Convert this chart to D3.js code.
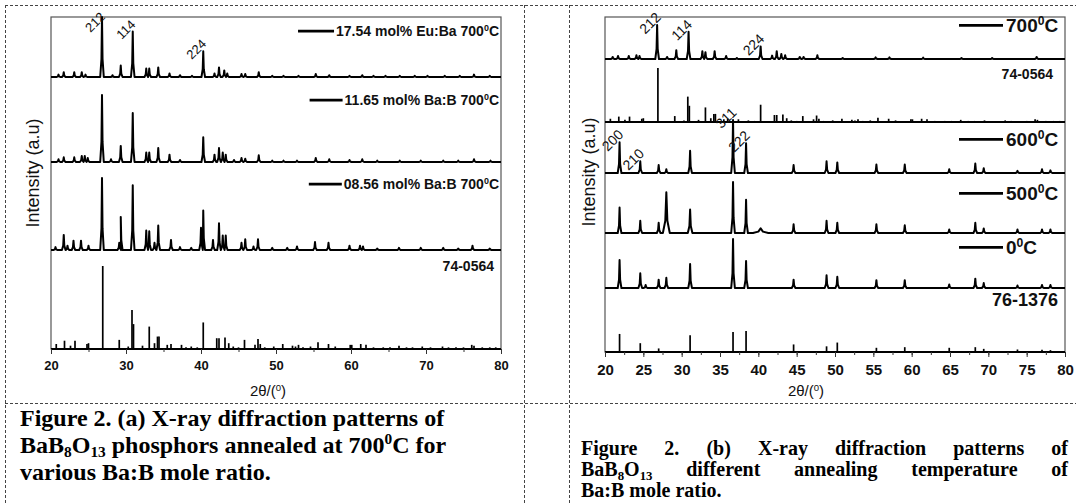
<!DOCTYPE html>
<html>
<head>
<meta charset="utf-8">
<script src="https://cdn.jsdelivr.net/npm/d3@7"></script>
<style>
  body { margin: 0; background: #fff; }
  svg text { font-family: Arial, "Liberation Sans", sans-serif; fill: #111; }
  svg text.cap { font-family: "Times New Roman", "Liberation Serif", serif; font-weight: bold; fill: #000; }
</style>
</head>
<body>
<svg id="fig" width="1076" height="504"></svg>
<script>
// peaks: [2theta (deg), relative intensity (%), optional half width (deg)]
const xrd1754 = [[21.0,4],[21.7,8],[23.1,8],[24.1,8],[24.6,4],[26.8,100],[28.2,3],[29.3,19],[30.9,76],[32.7,14],[33.1,14],[34.3,16],[35.8,6],[37.2,3],[38.8,2],[40.3,43],[41.8,6],[42.4,16],[43.1,11],[43.5,6],[45.4,5],[45.9,5],[47.7,8],[49.5,2],[51.0,2],[53.0,2],[55.3,5],[57.1,3],[59.8,2],[61.5,3],[63.0,2],[64.6,2],[66.5,2],[68.5,2],[70.2,2],[72.5,2],[74.5,2],[76.4,4],[78.5,2]];
const xrd1165 = [[21.0,4],[21.7,7],[23.1,7],[24.1,9],[24.5,9],[24.9,6],[26.8,100],[28.0,4],[29.3,24],[30.9,73],[32.7,14],[33.1,14],[34.3,21],[35.8,11],[37.2,3],[40.3,37],[41.8,11],[42.4,21],[42.9,14],[43.3,11],[44.4,3],[45.4,6],[45.9,5],[47.7,10],[49.5,2],[51.0,2],[52.8,2],[55.3,6],[57.1,4],[59.8,3],[61.5,4],[63.5,2],[66.5,2],[69.3,2],[72.3,2],[74.3,2],[76.4,4],[78.6,2]];
const xrd0856 = [[20.6,4],[21.7,21],[22.2,6],[23.0,13],[24.0,13],[25.0,6],[26.8,100],[29.1,10],[29.3,46],[30.9,90],[32.7,27],[33.1,26],[33.8,10],[34.3,34],[36.0,14],[37.2,4],[38.7,3],[40.0,31],[40.3,55],[41.6,14],[42.4,37],[42.9,20],[43.3,20],[45.4,10],[45.9,15],[47.0,5],[47.6,15],[49.5,3],[51.5,3],[52.8,5],[55.2,11],[57.0,10],[59.8,6],[61.2,6],[61.6,5],[63.5,2],[66.4,3],[69.3,3],[72.3,3],[74.3,2],[76.2,6],[78.5,2]];
// reference card 74-0564 (sticks)
const card740564 = [[20.7,6],[21.8,10],[22.6,4],[23.2,10],[24.8,6],[25.0,7],[26.9,100],[29.1,11],[30.3,3],[30.8,47],[31.0,30],[32.2,4],[33.1,27],[33.8,7],[34.2,15],[34.4,15],[35.5,5],[36.0,6],[37.4,5],[38.0,2],[38.7,3],[39.5,2],[40.3,32],[42.1,13],[42.4,13],[43.2,14],[43.7,7],[44.3,3],[45.0,2],[45.8,11],[47.2,5],[47.6,12],[47.9,6],[48.5,2],[49.7,3],[50.9,6],[52.2,4],[52.6,3],[53.0,5],[53.6,2],[54.6,3],[55.6,8],[57.0,6],[57.9,3],[59.9,5],[60.1,5],[61.3,6],[62.0,5],[63.0,2],[64.3,2],[65.2,2],[66.4,4],[67.4,2],[68.2,2],[69.5,3],[70.6,2],[72.2,3],[73.0,2],[74.0,2],[75.0,2],[76.1,5],[76.4,4],[77.5,2],[78.5,2],[79.3,2]];

const xrd700 = [[21.0,6],[21.7,9],[23.1,9],[24.1,11],[24.5,9],[26.8,100],[28.1,6],[29.3,26],[30.9,80],[32.7,23],[33.1,20],[34.3,23],[35.8,9],[37.2,3],[40.3,37],[41.8,10],[42.4,23],[43.0,15],[43.5,11],[45.4,6],[45.9,6],[47.7,11],[51.0,3],[55.3,5],[57.1,5],[61.5,4],[66.5,3],[70.5,3],[76.3,6]];
const xrd600 = [[21.9,58],[24.6,22],[27.0,15],[28.0,7],[31.1,42],[36.7,100],[38.4,56],[44.6,15],[48.9,22],[50.3,20],[55.4,16],[59.1,16],[64.9,7],[68.3,18],[69.4,9],[73.8,4],[77.0,7],[78.1,5]];
const xrd500 = [[21.9,50],[24.6,24],[27.0,20],[28.0,80,0.45],[31.1,46,0.3],[36.7,100],[38.4,65],[40.3,9,1.0],[44.6,17],[48.9,24],[50.3,20],[55.4,17],[59.1,15],[64.9,7],[68.3,20],[69.4,9],[73.8,7],[77.0,7],[78.1,7]];
const xrd0 = [[21.9,57],[24.6,30],[25.3,6],[27.0,17],[28.0,21],[31.1,49],[36.7,100],[38.4,55],[44.6,17],[48.9,26],[50.3,23],[55.4,16],[59.1,16],[64.9,7],[68.3,19],[69.4,10],[73.8,5],[77.0,6],[78.1,6]];
// reference card 76-1376 (sticks)
const card761376 = [[21.9,86],[24.6,42],[27.0,17],[31.1,80],[33.2,4],[36.7,95],[38.4,100],[40.2,4],[41.7,4],[44.6,36],[46.2,3],[47.6,4],[48.9,27],[50.3,45],[51.7,4],[52.9,4],[55.4,20],[57.0,3],[58.0,3],[59.1,23],[61.0,3],[62.9,3],[64.9,20],[66.5,3],[67.4,3],[68.3,23],[69.4,15],[70.6,3],[71.6,3],[72.8,3],[73.8,12],[75.3,3],[76.1,3],[77.0,11],[78.1,9],[79.2,3]];

const hklBaB8O13 = [["212",26.8],["114",30.9],["224",40.3]];
const hklCubic = [["200",21.9],["210",24.6],["311",36.7],["222",38.4]];

const leftTicks = [20,30,40,50,60,70,80];
const rightTicks = [20,25,30,35,40,45,50,55,60,65,70,75,80];

const svg = d3.select("#fig");

// text with super/subscripts: parts = [[text, ''|'sup'|'sub'], ...]
function rich(t, parts, fs) {
  let shift = 0;
  parts.forEach(([s, k]) => {
    const target = k === "sup" ? -0.36 * fs : k === "sub" ? 0.18 * fs : 0;
    t.append("tspan").attr("dy", target - shift).attr("font-size", k ? fs * 0.64 : fs).text(s);
    shift = target;
  });
  return t;
}

// dashed table borders
const dash = (x1, y1, x2, y2) => svg.append("line")
  .attr("x1", x1).attr("y1", y1).attr("x2", x2).attr("y2", y2)
  .attr("stroke", "#444").attr("stroke-width", 1).attr("stroke-dasharray", "3,2");
dash(5, 5.5, 1076, 5.5);
dash(5, 403.5, 1076, 403.5);
dash(5.5, 5, 5.5, 504);
dash(524.5, 5, 524.5, 504);
dash(569.5, 5, 569.5, 504);

function tracePoints(peaks, w) {
  const pts = [[20, 0]];
  let last = 20;
  peaks.slice().sort((a, b) => a[0] - b[0]).forEach(p => {
    const hw = p[2] || w;
    const l = Math.max(p[0] - hw, last);
    pts.push([l, 0]);
    if (p[0] - hw * 0.3 > l) pts.push([p[0] - hw * 0.3, p[1] * 0.3]);
    pts.push([p[0], p[1]]);
    pts.push([p[0] + hw * 0.3, p[1] * 0.3]);
    pts.push([p[0] + hw, 0]);
    last = p[0] + hw;
  });
  pts.push([80, 0]);
  return pts;
}

function panel(cfg) {
  const x = d3.scaleLinear().domain([20, 80]).range([cfg.x0, cfg.x1]);

  svg.append("rect")
    .attr("x", cfg.x0).attr("y", cfg.top)
    .attr("width", cfg.x1 - cfg.x0).attr("height", cfg.axis - cfg.top)
    .attr("fill", "none").attr("stroke", "#555").attr("stroke-width", 1.2);

  cfg.bands.forEach(b => {
    const y = d3.scaleLinear().domain([0, 100]).range([b.base, b.top]);
    const g = svg.append("g");
    if (b.sticks) {
      g.append("line").attr("x1", x(20)).attr("x2", x(80))
        .attr("y1", b.base).attr("y2", b.base)
        .attr("stroke", "#000").attr("stroke-width", 1.8);
      g.selectAll("line.st").data(b.data).enter().append("line").attr("class", "st")
        .attr("x1", d => x(d[0])).attr("x2", d => x(d[0]))
        .attr("y1", b.base).attr("y2", d => y(d[1]))
        .attr("stroke", "#000").attr("stroke-width", 1.7);
    } else {
      const line = d3.line().x(d => x(d[0])).y(d => y(d[1]));
      g.append("path").attr("d", line(tracePoints(b.data, b.w)))
        .attr("fill", "none").attr("stroke", "#000").attr("stroke-width", 2)
        .attr("stroke-linejoin", "round");
    }
    if (b.hkl) {
      // hkl labels sit up-left of their peak, reading at 45 degrees
      b.hkl.forEach(([lab, tt]) => {
        const pk = b.data.find(d => d[0] === tt);
        const cx = x(tt) - 7, cy = Math.max(y(pk[1]), cfg.top + 7) - 2;
        svg.append("text").attr("transform", `translate(${cx},${cy}) rotate(-45)`)
          .attr("text-anchor", "middle").attr("dy", "0.35em")
          .attr("font-size", cfg.hklSize).attr("fill", "#000").text(lab);
      });
    }
    if (b.legend) {
      const L = b.legend;
      const t = svg.append("text").attr("y", L.y).attr("font-weight", "bold");
      rich(t, L.parts, L.fs);
      const wdt = t.node().getComputedTextLength();
      const tx = L.anchor === "end" ? L.x - wdt : L.x;
      t.attr("x", tx);
      if (L.line) {
        svg.append("line").attr("x1", tx - L.gap - L.line).attr("x2", tx - L.gap)
          .attr("y1", L.y - L.fs * 0.35).attr("y2", L.y - L.fs * 0.35)
          .attr("stroke", "#000").attr("stroke-width", 2.6);
      }
    }
  });

  const minor = d3.range(20, 80.01, cfg.minor);
  svg.append("g").attr("transform", `translate(0,${cfg.axis})`)
    .call(d3.axisBottom(x).tickValues(minor).tickSize(3).tickSizeOuter(0).tickFormat(""))
    .call(g => g.select(".domain").remove())
    .call(g => g.selectAll("line").attr("stroke", "#333"));
  svg.append("g").attr("transform", `translate(0,${cfg.axis})`)
    .call(d3.axisBottom(x).tickValues(cfg.ticks).tickSize(5).tickSizeOuter(0).tickPadding(cfg.pad))
    .call(g => g.select(".domain").remove())
    .call(g => g.selectAll("line").attr("stroke", "#333"))
    .call(g => g.selectAll("text").attr("font-size", cfg.tickSize).attr("font-weight", "bold")
      .attr("font-family", "Arial, 'Liberation Sans', sans-serif").attr("fill", "#111"));

  rich(svg.append("text").attr("x", cfg.xt).attr("y", cfg.xtY).attr("text-anchor", "middle"),
    [["2\u03b8/(", ""], ["0", "sup"], [")", ""]], 15);

  svg.append("text").attr("transform", `translate(${cfg.yl},${cfg.ylY}) rotate(-90)`)
    .attr("text-anchor", "middle").attr("font-size", 18).text("Intensity (a.u)");
}

panel({
  x0: 51, x1: 501, top: 17, axis: 349, minor: 5, ticks: leftTicks, tickSize: 13, pad: 7,
  hklSize: 13, xt: 268, xtY: 396, yl: 39, ylY: 173,
  bands: [
    { data: xrd1754, base: 77, top: 17, w: 0.24, hkl: hklBaB8O13,
      legend: { parts: [["17.54 mol% Eu:Ba 700", ""], ["0", "sup"], ["C", ""]], x: 499, y: 36, fs: 14, anchor: "end", line: 36, gap: 2 } },
    { data: xrd1165, base: 162, top: 95, w: 0.24,
      legend: { parts: [["11.65 mol% Ba:B 700", ""], ["0", "sup"], ["C", ""]], x: 499, y: 105, fs: 14, anchor: "end", line: 33, gap: 2 } },
    { data: xrd0856, base: 250, top: 178, w: 0.24,
      legend: { parts: [["08.56 mol% Ba:B 700", ""], ["0", "sup"], ["C", ""]], x: 499, y: 189, fs: 14, anchor: "end", line: 33, gap: 2 } },
    { data: card740564, base: 349, top: 266, sticks: true,
      legend: { parts: [["74-0564", ""]], x: 494, y: 271, fs: 14, anchor: "end" } }
  ]
});

panel({
  x0: 605, x1: 1065, top: 17, axis: 352, minor: 2.5, ticks: rightTicks, tickSize: 15, pad: 7,
  hklSize: 14, xt: 806, xtY: 396, yl: 595, ylY: 172,
  bands: [
    { data: xrd700, base: 59, top: 25, w: 0.24, hkl: hklBaB8O13,
      legend: { parts: [["700", ""], ["0", "sup"], ["C", ""]], x: 1006, y: 32, fs: 19, line: 44, gap: 3 } },
    { data: card740564, base: 122, top: 68, sticks: true,
      legend: { parts: [["74-0564", ""]], x: 1053, y: 79, fs: 14, anchor: "end" } },
    { data: xrd600, base: 173, top: 120, w: 0.24, hkl: hklCubic,
      legend: { parts: [["600", ""], ["0", "sup"], ["C", ""]], x: 1006, y: 146, fs: 19, line: 44, gap: 3 } },
    { data: xrd500, base: 233, top: 182, w: 0.24,
      legend: { parts: [["500", ""], ["0", "sup"], ["C", ""]], x: 1006, y: 200, fs: 19, line: 44, gap: 3 } },
    { data: xrd0, base: 288, top: 239, w: 0.24,
      legend: { parts: [["0", ""], ["0", "sup"], ["C", ""]], x: 1006, y: 254, fs: 19, line: 44, gap: 3 } },
    { data: card761376, base: 352, top: 331, sticks: true,
      legend: { parts: [["76-1376", ""]], x: 1058, y: 306, fs: 18, anchor: "end" } }
  ]
});

// captions
const capL = [
  [["Figure 2. (a) X-ray diffraction patterns of", ""]],
  [["BaB", ""], ["8", "sub"], ["O", ""], ["13", "sub"], [" phosphors annealed at 700", ""], ["0", "sup"], ["C for", ""]],
  [["various Ba:B mole ratio.", ""]]
];
capL.forEach((parts, i) => {
  rich(svg.append("text").attr("class", "cap").attr("x", 20).attr("y", 426 + i * 27), parts, 24);
});

// right caption is justified word by word
const capR = [
  [[["Figure", ""]], [["2.", ""]], [["(b)", ""]], [["X-ray", ""]], [["diffraction", ""]], [["patterns", ""]], [["of", ""]]],
  [[["BaB", ""], ["8", "sub"], ["O", ""], ["13", "sub"]], [["different", ""]], [["annealing", ""]], [["temperature", ""]], [["of", ""]]],
  [[["Ba:B", ""]], [["mole", ""]], [["ratio.", ""]]]
];
const rx0 = 581, rx1 = 1068, rfs = 20;
capR.forEach((words, i) => {
  const y = 455 + i * 21;
  const nodes = words.map(w => rich(svg.append("text").attr("class", "cap").attr("y", y), w, rfs));
  const widths = nodes.map(n => n.node().getComputedTextLength());
  const total = d3.sum(widths);
  const gap = i < capR.length - 1 ? (rx1 - rx0 - total) / (words.length - 1) : rfs * 0.25;
  let cx = rx0;
  nodes.forEach((n, j) => { n.attr("x", cx); cx += widths[j] + gap; });
});
</script>
</body>
</html>
